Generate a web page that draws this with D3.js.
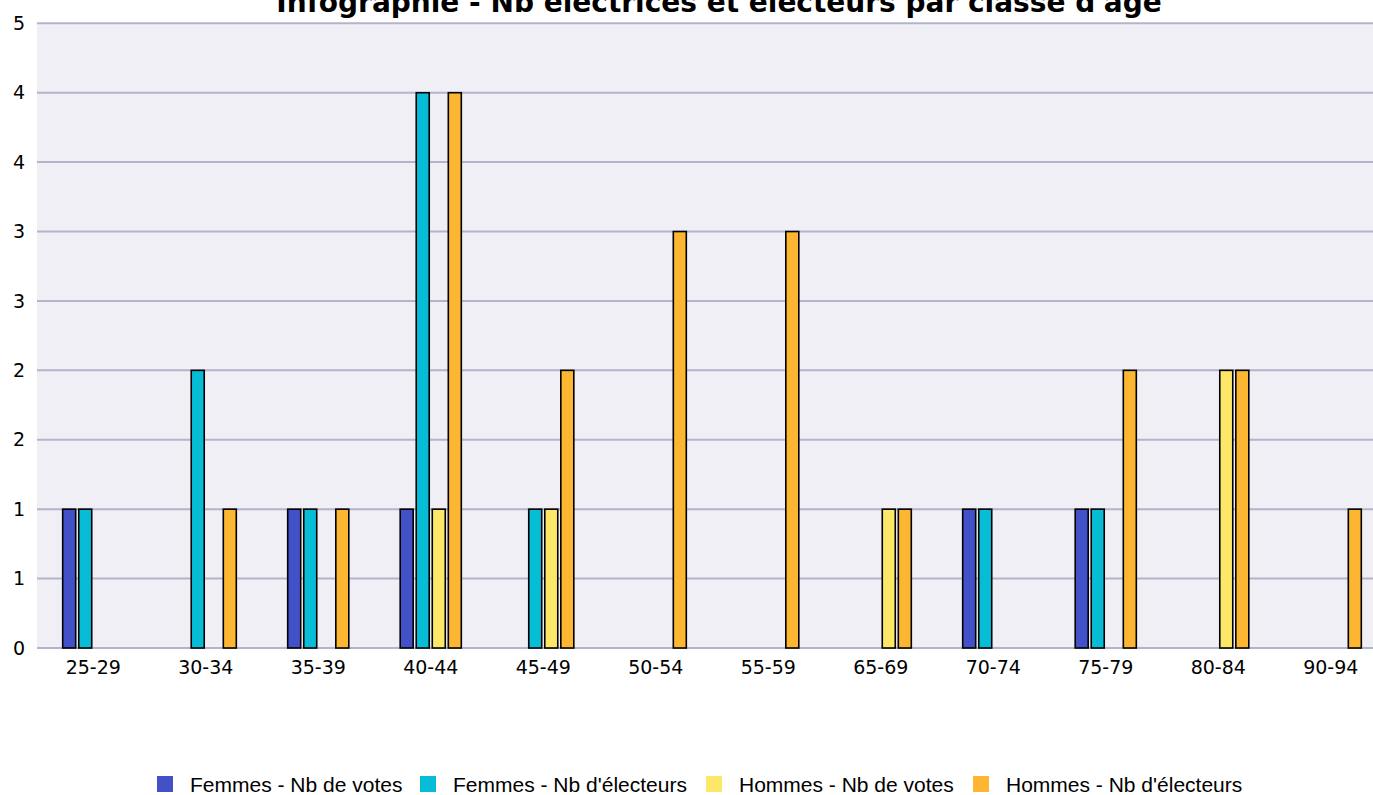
<!DOCTYPE html>
<html>
<head>
<meta charset="utf-8">
<script src="https://cdn.jsdelivr.net/npm/d3@7/dist/d3.min.js"></script>
<style>
  body { margin: 0; background: #fff; overflow: hidden; }
  svg { display: block; }
</style>
</head>
<body>
<div id="chart"></div>
<script>
const WIDTH = 1373, HEIGHT = 795;
const MARGIN = { TOP: 23.3, BOTTOM: 147, LEFT: 37, RIGHT: -14 };

const categories = ["25-29", "30-34", "35-39", "40-44", "45-49", "50-54", "55-59", "65-69", "70-74", "75-79", "80-84", "90-94"];
const femmesVotes     = [1, 0, 1, 1, 0, 0, 0, 0, 1, 1, 0, 0];
const femmesElecteurs = [1, 2, 1, 4, 1, 0, 0, 0, 1, 1, 0, 0];
const hommesVotes     = [0, 0, 0, 1, 1, 0, 0, 1, 0, 0, 2, 0];
const hommesElecteurs = [0, 1, 1, 4, 2, 3, 3, 1, 0, 2, 2, 1];
const seriesNames = ["Femmes - Nb de votes", "Femmes - Nb d'électeurs", "Hommes - Nb de votes", "Hommes - Nb d'électeurs"];
const yTicks = [0, 0.5, 1, 1.5, 2, 2.5, 3, 3.5, 4, 4.5];

const colors = ["#4351c9", "#06bdd5", "#fde768", "#fdb631"];
const series = [femmesVotes, femmesElecteurs, hommesVotes, hommesElecteurs];

const plotW = WIDTH - MARGIN.LEFT - MARGIN.RIGHT;
const plotH = HEIGHT - MARGIN.TOP - MARGIN.BOTTOM;

const svg = d3.select("#chart").append("svg")
    .attr("width", WIDTH)
    .attr("height", HEIGHT);

const g = svg.append("g")
    .attr("transform", "translate(" + MARGIN.LEFT + "," + MARGIN.TOP + ")");

const x = d3.scaleBand().domain(categories).range([0, plotW]);
const inner = d3.scaleBand().domain(d3.range(4)).range([-32, 32]).paddingInner(0.19).paddingOuter(0.09);
const y = d3.scaleLinear().domain([0, 4.5]).range([plotH, 0]);

g.append("rect")
    .attr("width", plotW)
    .attr("height", plotH)
    .attr("fill", "#efeff5");

// grid
g.selectAll(".grid").data(yTicks).enter().append("line")
    .attr("x1", 0).attr("x2", plotW)
    .attr("y1", d => y(d)).attr("y2", d => y(d))
    .attr("stroke", "#b3b3c9")
    .attr("stroke-width", 2);

// y labels (ticks every 0.5, labels rounded)
const yAxis = d3.axisLeft(y).tickValues(yTicks).tickSize(0).tickPadding(12)
    .tickFormat(d => Math.round(d));
g.append("g").call(yAxis)
    .call(a => a.select(".domain").remove())
    .selectAll("text")
    .attr("font-family", "DejaVu Sans, Verdana, sans-serif")
    .attr("font-size", 19)
    .attr("fill", "#000");

// x labels
const xAxis = d3.axisBottom(x).tickSize(0).tickPadding(13);
g.append("g").attr("transform", "translate(0," + plotH + ")").call(xAxis)
    .call(a => a.select(".domain").remove())
    .selectAll("text")
    .attr("font-family", "DejaVu Sans, Verdana, sans-serif")
    .attr("font-size", 19)
    .attr("fill", "#000");

// bars
const bars = [];
categories.forEach((c, i) => {
  series.forEach((s, k) => {
    if (s[i] > 0) bars.push({ cat: c, k: k, v: s[i] });
  });
});

g.selectAll(".bar").data(bars).enter().append("rect")
    .attr("class", "bar")
    .attr("x", d => x(d.cat) + x.bandwidth() / 2 + inner(d.k))
    .attr("width", inner.bandwidth())
    .attr("y", d => y(d.v))
    .attr("height", d => y(0) - y(d.v))
    .attr("fill", d => colors[d.k])
    .attr("stroke", "#000")
    .attr("stroke-width", 1.6);

// title (partly above the top edge, as in the original)
svg.append("text")
    .attr("x", 719)
    .attr("y", 12)
    .attr("text-anchor", "middle")
    .attr("font-family", "DejaVu Sans, Verdana, sans-serif")
    .attr("font-weight", "bold")
    .attr("font-size", 28)
    .text("Infographie - Nb électrices et électeurs par classe d'âge");

// legend
const legendX = [157, 420, 706, 973];
const legend = svg.append("g").attr("transform", "translate(0,776)");
const items = legend.selectAll(".item").data(seriesNames).enter().append("g")
    .attr("transform", (d, i) => "translate(" + legendX[i] + ",0)");
items.append("rect")
    .attr("width", 16).attr("height", 16)
    .attr("fill", (d, i) => colors[i]);
items.append("text")
    .attr("x", 33).attr("y", 16)
    .attr("font-family", "Liberation Sans, Arial, sans-serif")
    .attr("font-size", 21)
    .text(d => d);
</script>
</body>
</html>
